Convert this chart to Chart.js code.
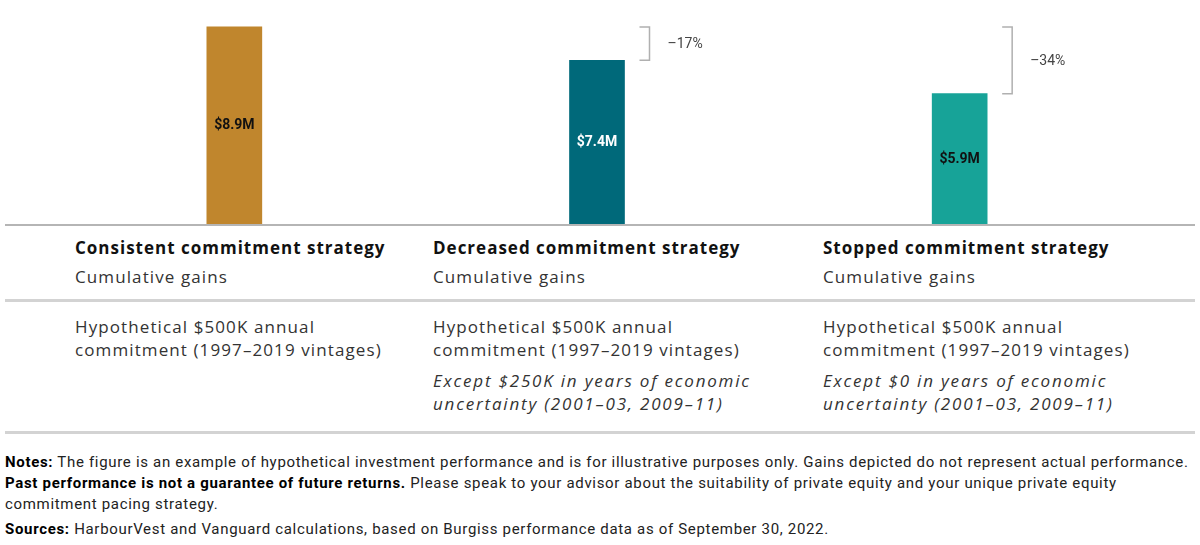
<!DOCTYPE html>
<html>
<head>
<meta charset="utf-8">
<script src="https://cdn.jsdelivr.net/npm/chart.js@4"></script>
<style>
  html, body { margin:0; padding:0; background:#fff; }
  #wrap { position:relative; width:1200px; height:545px; overflow:hidden; font-family:"Open Sans", sans-serif; }
  #chartBox { position:absolute; left:0; top:0; width:1200px; height:232px; }
  .rule { position:absolute; left:5px; width:1190px; height:3px; background:#d3d3d3; }
  .cell { position:absolute; white-space:nowrap; color:#333; }
  .hdr { font-weight:700; font-size:17px; color:#111; letter-spacing:1.0px; }
  .sub { font-size:17px; letter-spacing:1.1px; }
  .body { font-size:17px; line-height:23px; letter-spacing:1.1px; }
  .ital { font-size:17px; line-height:23px; font-style:italic; letter-spacing:1.8px; }
  .note { position:absolute; left:5px; white-space:nowrap; font-family:"Roboto",sans-serif; font-size:15px; color:#222; letter-spacing:0.68px; }
  .note b { color:#000; }
</style>
</head>
<body>
<div id="wrap">
  <div id="chartBox"><canvas id="c"></canvas></div>
  <div class="rule" style="top:299px"></div>
  <div class="rule" style="top:431px"></div>
  <div id="table"></div>
  <div id="notes"></div>
</div>
<script>
// ---- data ----
const categories = ['Consistent commitment strategy', 'Decreased commitment strategy', 'Stopped commitment strategy'];
const gains = [8.9, 7.4, 5.9];
const valueLabels = ['$8.9M', '$7.4M', '$5.9M'];
const changeLabels = ['', '–17%', '–34%'];
const subtitles = ['Cumulative gains', 'Cumulative gains', 'Cumulative gains'];
const descLines = [
  ['Hypothetical $500K annual', 'commitment (1997–2019 vintages)'],
  ['Hypothetical $500K annual', 'commitment (1997–2019 vintages)'],
  ['Hypothetical $500K annual', 'commitment (1997–2019 vintages)']
];
const exceptLines = [
  [],
  ['Except $250K in years of economic', 'uncertainty (2001–03, 2009–11)'],
  ['Except $0 in years of economic', 'uncertainty (2001–03, 2009–11)']
];
const notesLines = [
  '<b>Notes:</b> The figure is an example of hypothetical investment performance and is for illustrative purposes only. Gains depicted do not represent actual performance.',
  '<b>Past performance is not a guarantee of future returns.</b> Please speak to your advisor about the suitability of private equity and your unique private equity',
  'commitment pacing strategy.',
  '<b>Sources:</b> HarbourVest and Vanguard calculations, based on Burgiss performance data as of September 30, 2022.'
];

// ---- style ----
const barColors = ['#C0862D', '#00697A', '#17A398'];
const labelColors = ['#111111', '#ffffff', '#111111'];
const colX = [75, 433, 823];

// ---- table ----
const table = document.getElementById('table');
categories.forEach((cat, i) => {
  const h = document.createElement('div');
  h.className = 'cell hdr'; h.style.left = colX[i] + 'px'; h.style.top = '236px';
  h.textContent = cat; table.appendChild(h);
  const s = document.createElement('div');
  s.className = 'cell sub'; s.style.left = colX[i] + 'px'; s.style.top = '265px';
  s.textContent = subtitles[i]; table.appendChild(s);
  const d = document.createElement('div');
  d.className = 'cell body'; d.style.left = colX[i] + 'px'; d.style.top = '315px';
  d.innerHTML = descLines[i].join('<br>'); table.appendChild(d);
  if (exceptLines[i].length) {
    const e = document.createElement('div');
    e.className = 'cell ital'; e.style.left = colX[i] + 'px'; e.style.top = '369px';
    e.innerHTML = exceptLines[i].join('<br>'); table.appendChild(e);
  }
});

// ---- notes ----
const notes = document.getElementById('notes');
const noteTops = [453, 474, 495, 520];
notesLines.forEach((t, i) => {
  const n = document.createElement('div');
  n.className = 'note'; n.style.top = noteTops[i] + 'px';
  n.innerHTML = t; notes.appendChild(n);
});

// ---- chart plugins ----
const decor = {
  id: 'decor',
  afterDatasetsDraw(chart) {
    const ctx = chart.ctx;
    const y = chart.scales.y;
    const meta = chart.getDatasetMeta(0);
    const y0 = y.getPixelForValue(0);
    // baseline
    ctx.save();
    ctx.strokeStyle = '#b5b5b5';
    ctx.lineWidth = 2;
    ctx.beginPath(); ctx.moveTo(5, y0); ctx.lineTo(1195, y0); ctx.stroke();
    // value labels
    ctx.font = 'bold 14px "Roboto", sans-serif';
    ctx.textAlign = 'center'; ctx.textBaseline = 'middle';
    meta.data.forEach((bar, i) => {
      ctx.fillStyle = labelColors[i];
      ctx.fillText(valueLabels[i], bar.x, (bar.y + y0) / 2);
    });
    // brackets
    const topRef = y.getPixelForValue(gains[0]);
    meta.data.forEach((bar, i) => {
      if (!changeLabels[i]) return;
      const bx = bar.x + bar.width / 2 + 25;
      const by = bar.y;
      ctx.strokeStyle = '#b0b0b0';
      ctx.lineWidth = 1.5;
      ctx.beginPath();
      ctx.moveTo(bx - 10, topRef); ctx.lineTo(bx, topRef); ctx.lineTo(bx, by); ctx.lineTo(bx - 10, by);
      ctx.stroke();
      ctx.fillStyle = '#444';
      ctx.font = '14px "Roboto", sans-serif';
      ctx.textAlign = 'left';
      ctx.fillText(changeLabels[i], bx + 18, (topRef + by) / 2 + 1);
    });
    ctx.restore();
  }
};

new Chart(document.getElementById('c'), {
  type: 'bar',
  data: {
    labels: categories,
    datasets: [{
      data: gains,
      backgroundColor: barColors,
      borderWidth: 0,
      barThickness: 55
    }]
  },
  options: {
    responsive: true,
    maintainAspectRatio: false,
    animation: false,
    layout: { padding: { left: 53, right: 59, top: 0, bottom: 7 } },
    plugins: { legend: { display: false }, tooltip: { enabled: false } },
    scales: {
      x: { display: false },
      y: { display: false, min: 0, max: 10.11 }
    }
  },
  plugins: [decor]
});
</script>
</body>
</html>
